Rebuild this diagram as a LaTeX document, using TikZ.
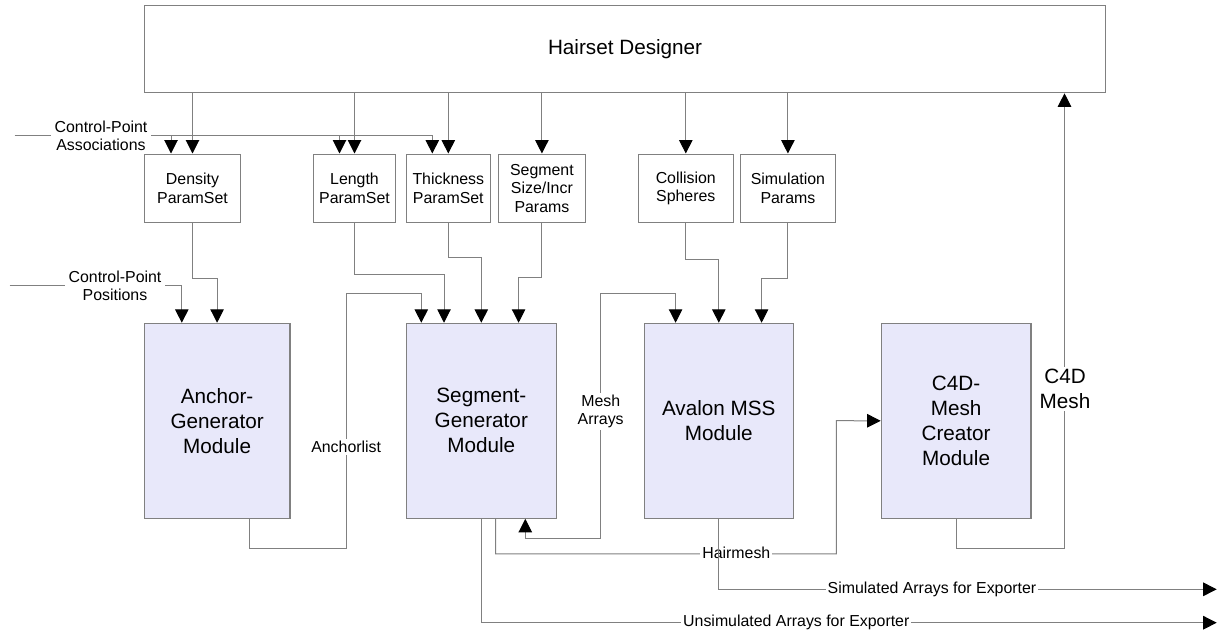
\documentclass[tikz,border=0pt]{standalone}
\usepackage{fontspec}
\setmainfont{Liberation Sans}
\usepackage{tikz}
\usetikzlibrary{arrows.meta}
\definecolor{linegray}{RGB}{128,128,128}
\definecolor{modfill}{RGB}{232,232,250}
\newcommand{\smalltxt}{\fontsize{15.9}{18.4}\selectfont}
\newcommand{\bigtxt}{\fontsize{20.7}{25}\selectfont}

\begin{document}
\begin{tikzpicture}[x=1pt,y=-1pt,>={Triangle[length=13.5pt,width=13.5pt,color=black]},
  blk/.style n args={2}{rectangle,draw=linegray,line width=1.1pt,minimum width=#1pt,minimum height=#2pt,inner sep=0pt,align=center,font=\smalltxt},
  mod/.style={blk={#1}{195},fill=modfill,font=\bigtxt},
  wire/.style={draw=linegray,line width=1pt},
  lbl/.style={fill=white,inner sep=2pt,align=center,font=\smalltxt}]
\fill[white] (0,0) rectangle (1220,630);
\useasboundingbox (0,0) rectangle (1220,630);

\node[blk={960.8}{87.7},font=\bigtxt] (designer) at (625.1,48.9) {Hairset Designer};
\foreach \n/\x/\w/\t in %
{density/192.5/95.6/{Density\\ParamSet},length/354.5/81.5/{Length\\ParamSet},
 thickness/448.3/83.8/{Thickness\\ParamSet},segsize/541.9/87.2/{Segment\\Size/Incr\\Params},
 collision/685.8/95.2/{Collision\\Spheres},simparams/787.9/95.2/{Simulation\\Params}} {
   \node[blk={\w}{68.3}] (\n) at (\x,188.2) {\t};
}
\foreach \n/\x/\w/\t in %
{anchorgen/217.1/145.8/{Anchor-\\Generator\\Module},seggen/481.3/150/{Segment-\\Generator\\Module},
 avalon/718.8/149.5/{Avalon MSS\\Module},c4d/956.1/149.8/{C4D-\\Mesh\\Creator\\Module}} {
   \node[mod=\w] (\n) at (\x,420.8) {\t};
}

% designer feeds every parameter set
\foreach \n in {density,length,thickness,segsize,collision,simparams} {
   \draw[->,wire] (\n.north |- designer.south) -- (\n.north);
}

% control-point inputs
\coordinate (associn) at (14.5,135.7);
\draw[->,wire] (associn) -| ([xshift=-16pt]thickness.north);
\foreach \n/\d in {density/-21.5,length/-15} {
   \draw[->,wire] ([xshift=\d pt]\n.north |- associn) -- ([xshift=\d pt]\n.north);
}
\node[lbl,inner sep=3.5pt] (assoclbl) at (101,135.7) {Control-Point\\Associations};
\coordinate (posin) at (9.6,285.7);
\draw[->,wire] (posin) -| ([xshift=-35.3pt]anchorgen.north);
\node[lbl,inner sep=3.5pt] (poslbl) at (115,285.7) {Control-Point\\Positions};

% parameter sets into the modules
\draw[->,wire] (density.south) -- ++(0,56) -| (anchorgen.north);
\draw[->,wire] (length.south) -- ++(0,51.7) -| ([xshift=-37.3pt]seggen.north);
\draw[->,wire] (thickness.south) -- ++(0,34.4) -| (seggen.north);
\draw[->,wire] (segsize.south) -- ++(0,54.4) -| ([xshift=37.3pt]seggen.north);
\draw[->,wire] (collision.south) -- ++(0,37) -| (avalon.north);
\draw[->,wire] (simparams.south) -- ++(0,56) -| ([xshift=42.8pt]avalon.north);

% anchor list and mesh arrays
\draw[->,wire] ([xshift=32.3pt]anchorgen.south) -- ++(0,30) -| (346.2,293.3) -| ([xshift=-60pt]seggen.north);
\node[lbl] (anchorlbl) at (346.2,446.7) {Anchorlist};
\draw[<->,wire] ([xshift=44pt]seggen.south) |- (600.7,538.3) -- (600.7,293.3) -| ([xshift=-43.2pt]avalon.north);
\node[lbl] (meshlbl) at (600.7,411.2) {Mesh\\Arrays};

% hairmesh and the exporter arrays
\draw[->,wire] ([xshift=14.2pt]seggen.south) -- ++(0,35) -| (836.3,420.7) -- (c4d.west);
\node[lbl] (hairlbl) at (736.3,553.3) {Hairmesh};
\coordinate (simout) at (1216.7,589.3);
\coordinate (unsimout) at (1216.7,622.7);
\draw[->,wire] (avalon.south) |- (simout);
\draw[->,wire] (seggen.south) |- (unsimout);
\node[lbl] (simlbl) at (932,589.3) {Simulated Arrays for Exporter};
\node[lbl] (unsimlbl) at (796.3,622.7) {Unsimulated Arrays for Exporter};

% mesh goes back to the designer
\draw[->,wire] (c4d.south) -- ++(0,29.4) -| ([xshift=439.4pt]designer.south);
\node[lbl,font=\bigtxt] (c4dlbl) at (1065,388.9) {C4D\\Mesh};
\end{tikzpicture}
\end{document}
